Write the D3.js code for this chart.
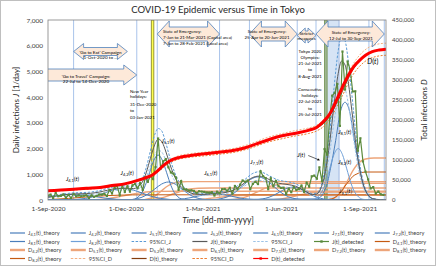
<!DOCTYPE html>
<html>
<head>
<meta charset="utf-8">
<script src="https://cdn.jsdelivr.net/npm/d3@7"></script>
<style>
  body { margin: 0; background: #fff; }
  svg { display: block; font-family: Lato, 'Open Sans', sans-serif; }
</style>
</head>
<body>
<svg id="chart" width="436" height="266"></svg>
<script>
// ---- data (day = days since 1-Sep-2020) ----
const startDate = '2020-09-01';
const endDate = '2021-10-02';
const xTickDates = ['2020-09-01', '2020-12-01', '2021-03-01', '2021-06-01', '2021-09-01'];
const leftTicks = [0, 1000, 2000, 3000, 4000, 5000, 6000, 7000];
const rightTicks = [0, 50000, 100000, 150000, 200000, 250000, 300000, 350000, 400000, 450000];

// detected daily infections, one value every 3 days from 1-Sep-2020
const jDetectedStep = 3;
const jDetected = [
  170, 211, 77, 276, 146, 163, 218, 88, 195, 78,
  235, 143, 177, 146, 166, 184, 78, 185, 124, 158, 215,
  209, 242, 157, 393, 255, 493, 539, 186, 570, 311,
  533, 327, 572, 621, 460, 664, 392, 888, 708, 944,
  814, 1278, 2392, 1219, 1502, 1592, 1274, 1070, 1026, 868,
  393, 734, 429, 412, 369, 378, 353, 272, 340, 329,
  316, 293, 290, 304, 175, 323, 256, 420, 430, 364,
  475, 249, 545, 421, 591, 759, 711, 759, 425, 629,
  708, 621, 1121, 925, 854, 419, 843, 535, 743, 539,
  471, 472, 235, 440, 304, 501, 388, 435, 562, 317,
  673, 518, 920, 950, 830, 1271, 727, 1979, 1763, 3177, 4058,
  4166, 4515, 2884, 5773, 4295, 5386, 5074, 4220, 4227, 1915,
  2400, 1500, 1100, 800, 450, 500, 250, 330, 220, 200
];

// cumulative detected infections [day, D]
const dDetected = [[0,23000],[15,25000],[30,27000],[45,29500],[61,31500],[75,36000],[91,41000],[105,49000],[115,56000],[122,62000],[128,72000],[135,86000],[142,97000],[153,106000],[167,111000],[181,115000],[200,119500],[215,123000],[230,130000],[245,141000],[260,152000],[273,160000],[290,167000],[305,174000],[315,182000],[322,195000],[330,215000],[337,245000],[344,278000],[351,308000],[358,333000],[365,349000],[372,362000],[380,371000],[388,375000],[396,377000]];

// theory components of daily infections [day, J]
const J41 = [[0,107],[5,133],[17,190],[30,220],[43,192],[55,133],[67,73],[80,30],[92,10],[105,2],[130,0],[396,0]];
const J42 = [[0,0],[22,5],[44,61],[55,146],[66,273],[77,397],[88,450],[99,397],[110,273],[121,146],[132,61],[154,5],[180,0],[396,0]];
const J51 = [[0,0],[99,19],[109,237],[114,568],[119,1061],[124,1544],[129,1750],[134,1544],[139,1061],[144,568],[149,237],[159,19],[175,0],[396,0]];
const J52 = [[0,0],[93,8],[109,95],[117,227],[125,425],[133,618],[141,700],[149,618],[157,425],[165,227],[173,95],[189,8],[210,0],[396,0]];
const J61 = [[0,0],[135,3],[155,32],[165,78],[175,146],[185,212],[195,240],[205,212],[215,146],[225,78],[235,32],[255,3],[280,0],[396,0]];
const J71 = [[0,0],[192,10],[210,122],[219,292],[228,546],[237,794],[246,900],[255,794],[264,546],[273,292],[282,122],[300,10],[320,0],[396,0]];
const J72 = [[0,0],[239,6],[255,68],[263,162],[271,303],[279,441],[287,500],[295,441],[303,303],[311,162],[319,68],[335,6],[355,0],[396,0]];
const J81 = [[0,0],[315,42],[326,514],[331,1234],[337,2305],[342,3354],[348,3800],[354,3354],[359,2305],[365,1234],[370,514],[381,42],[396,0]];
const J82 = [[0,0],[310,22],[320,271],[325,649],[330,1213],[335,1765],[340,2000],[345,1765],[350,1213],[355,649],[360,271],[370,22],[385,0],[396,0]];

const jTheory = [[0,107],[10,161],[20,207],[30,234],[40,245],[50,261],[60,307],[70,383],[80,451],[90,465],[100,444],[110,668],[115,1056],[120,1620],[125,2149],[129,2358],[133,2288],[137,1986],[141,1577],[145,1180],[150,799],[155,541],[160,412],[170,246],[180,217],[190,246],[200,267],[210,303],[220,428],[230,659],[240,877],[246,928],[250,919],[260,786],[270,655],[280,605],[290,537],[300,371],[310,210],[315,237],[320,479],[325,1106],[330,2224],[335,3664],[340,4922],[344,5403],[348,5253],[352,4531],[356,3475],[360,2365],[365,1239],[370,536],[375,192],[380,57],[390,3],[396,0]];
const jCiUpper = [[0,126],[10,190],[20,244],[30,276],[40,289],[50,308],[60,362],[70,452],[80,532],[90,549],[100,524],[110,788],[115,1246],[120,1912],[125,2536],[129,2782],[133,2700],[137,2343],[141,1861],[145,1392],[150,943],[155,638],[160,486],[170,290],[180,256],[190,290],[200,315],[210,358],[220,505],[230,778],[240,1035],[246,1095],[250,1084],[260,927],[270,773],[280,714],[290,634],[300,438],[310,248],[315,280],[320,565],[325,1305],[330,2624],[335,4324],[340,5808],[344,6376],[348,6199],[352,5347],[356,4101],[360,2791],[365,1462],[370,632],[375,227],[380,67],[390,4],[396,0]];
const jCiLower = [[0,88],[10,132],[20,170],[30,192],[40,201],[50,214],[60,252],[70,314],[80,370],[90,381],[100,364],[110,548],[115,866],[120,1328],[125,1762],[129,1934],[133,1876],[137,1629],[141,1293],[145,968],[150,655],[155,444],[160,338],[170,202],[180,178],[190,202],[200,219],[210,248],[220,351],[230,540],[240,719],[246,761],[250,754],[260,645],[270,537],[280,496],[290,440],[300,304],[310,172],[315,194],[320,393],[325,907],[330,1824],[335,3004],[340,4036],[344,4430],[348,4307],[352,3715],[356,2850],[360,1939],[365,1016],[370,440],[375,157],[380,47],[390,2],[396,0]];

// theory components of total infections [day, D]
const D41 = [[0,1260],[9,2070],[24,4020],[39,6500],[54,8980],[69,10930],[84,12130],[99,12700],[129,12990],[396,13000]];
const D42 = [[0,0],[30,22],[50,506],[60,1474],[70,3500],[80,6800],[90,11000],[100,15200],[110,18500],[120,20530],[130,21500],[150,21980],[396,22000]];
const D51 = [[0,0],[103,46],[113,1058],[118,3080],[123,7310],[128,14200],[133,23000],[138,31800],[143,38700],[148,42900],[153,44940],[163,45950],[396,46000]];
const D52 = [[0,0],[101,30],[116,690],[124,2010],[131,4770],[139,9270],[146,15000],[154,20730],[161,25230],[169,27990],[176,29310],[191,29970],[396,30000]];
const D61 = [[0,0],[144,12],[162,276],[171,804],[180,1908],[189,3708],[198,6000],[207,8292],[216,10092],[225,11196],[234,11724],[252,11988],[396,12000]];
const D71 = [[0,0],[198,42],[214,966],[222,2814],[230,6678],[238,12978],[246,21000],[254,29022],[262,35322],[270,39186],[278,41034],[294,41958],[396,42000]];
const D72 = [[0,0],[245,20],[260,460],[268,1340],[275,3180],[283,6180],[290,10000],[298,13820],[305,16820],[313,18660],[320,19540],[335,19980],[396,20000]];
const D81 = [[0,0],[322,105],[332,2415],[337,7035],[342,16695],[347,32445],[352,52500],[357,72555],[362,88305],[367,97965],[372,102585],[382,104895],[396,105000]];
const D82 = [[0,0],[321,70],[330,1610],[335,4690],[339,11130],[344,21630],[348,35000],[353,48370],[357,58870],[362,65310],[366,68390],[375,69930],[396,70000]];

const dTheory = [[0,22500],[30,26000],[60,30500],[91,40500],[105,48500],[120,61000],[130,76000],[140,93000],[150,104000],[165,111000],[181,114500],[200,119000],[220,125000],[240,137000],[255,149000],[273,159000],[290,167000],[305,173000],[315,180000],[325,196000],[335,228000],[345,272000],[355,318000],[365,348000],[375,366000],[385,374000],[396,377000]];
const dCiUpper = [[0,23400],[30,27000],[60,31700],[91,42100],[105,50400],[120,63400],[130,79000],[140,96700],[150,108200],[165,115400],[181,119100],[200,123800],[220,130000],[240,142500],[255,155000],[273,165400],[290,173700],[305,179900],[315,187200],[325,203800],[335,237100],[345,282900],[355,330700],[365,361900],[375,380600],[385,389000],[396,392100]];
const dCiLower = [[0,21600],[30,25000],[60,29300],[91,38900],[105,46600],[120,58600],[130,73000],[140,89300],[150,99800],[165,106600],[181,109900],[200,114200],[220,120000],[240,131500],[255,143000],[273,152600],[290,160300],[305,166100],[315,172800],[325,188200],[335,218900],[345,261100],[355,305300],[365,334100],[375,351400],[385,359000],[396,361900]];

// events
const eventDates = ['2020-10-01', '2020-12-14', '2021-01-07', '2021-03-21', '2021-04-25', '2021-06-20', '2021-07-12', '2021-09-12', '2021-09-30'];
const newYear = ['2020-12-31', '2021-01-03'];
const holidays = ['2021-07-22', '2021-07-25'];
const olympics = ['2021-07-23', '2021-08-08'];
const measureRanges = [
  ['2020-10-01', '2020-12-03'],
  ['2020-07-22', '2020-12-14'],
  ['2021-01-07', '2021-03-21'],
  ['2021-04-25', '2021-06-20'],
  ['2021-06-20', '2021-07-12'],
  ['2021-07-12', '2021-09-30']
];
const measureTexts = [
  ["'Go to Eat' Campaign", '1-Oct-2020 to ...'],
  ["'Go to Travel' Campaign:", '22-Jul to 14-Dec-2020'],
  ['State of Emergency:', '7-Jan to 21-Mar-2021 (Capital area)', '7-Jan to 28-Feb-2021 (Local area)'],
  ['State of Emergency:', '25-Apr to 20-Jun-2021'],
  ['Stricter', 'measures'],
  ['State of Emergency:', '12-Jul to 30-Sep-2021']
];
const newYearText = ['New Year', 'holidays:', '31-Dec-2020', 'to', '03-Jan-2021'];
const olympicsText = ['Tokyo 2020', 'Olympics:', '21-Jul-2021', 'to', '8-Aug-2021'];
const holidaysText = ['Consecutive', 'holidays:', '22-Jul-2021', 'to', '25-Jul-2021'];

// ---- drawing ----
const parse = d3.timeParse('%Y-%m-%d');
const t0 = parse(startDate);
const day = n => d3.timeDay.offset(t0, n);
const svg = d3.select('#chart');
const W = 436, H = 266;
const L = 48, R = 386, T = 20, B = 200;

const x = d3.scaleTime().domain([t0, parse(endDate)]).range([L, R]);
const yL = d3.scaleLinear().domain([0, 7000]).range([B, T]);
const yR = d3.scaleLinear().domain([0, 450000]).range([B, T]);

svg.append('rect').attr('x', 0.5).attr('y', 0.5).attr('width', W - 1).attr('height', H - 1)
  .attr('fill', '#fff').attr('stroke', '#bfbfbf');

svg.append('defs').append('clipPath').attr('id', 'plotclip')
  .append('rect').attr('x', L).attr('y', T).attr('width', R - L).attr('height', B - T);
svg.select('defs').append('marker').attr('id', 'ah').attr('viewBox', '0 0 6 6')
  .attr('refX', 5).attr('refY', 3).attr('markerWidth', 4).attr('markerHeight', 4).attr('orient', 'auto')
  .append('path').attr('d', 'M0,0 L6,3 L0,6 Z').attr('fill', '#000');

const plot = svg.append('g').attr('clip-path', 'url(#plotclip)');

// shaded periods
function band(range, fill, stroke, op) {
  plot.append('rect')
    .attr('x', x(parse(range[0]))).attr('y', T)
    .attr('width', x(parse(range[1])) - x(parse(range[0]))).attr('height', B - T)
    .attr('fill', fill).attr('fill-opacity', op).attr('stroke', stroke).attr('stroke-width', 0.8);
}
band(olympics, '#c5d9f1', '#8eaadb', 0.7);
band(holidays, '#9fb58a', '#6b8e4e', 0.9);
band(newYear, '#ffff40', '#7f7f20', 0.9);

plot.selectAll('line.ev').data(eventDates).join('line').attr('class', 'ev')
  .attr('x1', d => x(parse(d))).attr('x2', d => x(parse(d)))
  .attr('y1', T).attr('y2', B).attr('stroke', '#a9c4eb').attr('stroke-width', 1);

function series(data, y, color, width, dash) {
  const line = d3.line().x(d => x(day(d[0]))).y(d => y(d[1])).curve(d3.curveMonotoneX);
  plot.append('path').datum(data).attr('d', line).attr('fill', 'none')
    .attr('stroke', color).attr('stroke-width', width).attr('stroke-dasharray', dash || null);
}

const colD1 = '#c55a11', colD2 = '#eda57a';
[D42, D51, D52, D61, D71, D72, D81].forEach(d => series(d, yR, colD2, 1.4));
series(D41, yR, colD1, 1);
series(D82, yR, colD1, 1);
series(dCiUpper, yR, '#f4b183', 1, '2,1.5');
series(dCiLower, yR, '#ed7d31', 1, '2,1.5');
series(dTheory, yR, '#843c0c', 1);

const colJ1 = '#4a7ebb', colJ2 = '#6fa0d8';
[J41, J42, J51, J52, J61, J71, J72, J81].forEach(d => series(d, yL, colJ1, 1));
series(J82, yL, colJ2, 1);
series(jCiUpper, yL, '#5b9bd5', 1, '2.5,1.5');
series(jCiLower, yL, '#9dc3e6', 1, '2.5,1.5');
series(jTheory, yL, '#595959', 1);

// detected J
const jPts = jDetected.map((v, i) => [i * jDetectedStep, v]);
plot.append('path').datum(jPts)
  .attr('d', d3.line().x(d => x(day(d[0]))).y(d => yL(d[1])))
  .attr('fill', 'none').attr('stroke', '#5a8a3c').attr('stroke-width', 1.2);
plot.selectAll('rect.jm').data(jPts).join('rect').attr('class', 'jm')
  .attr('x', d => x(day(d[0])) - 1.1).attr('y', d => yL(d[1]) - 1.1)
  .attr('width', 2.2).attr('height', 2.2).attr('fill', '#5a8a3c');

// detected D
plot.append('path').datum(dDetected)
  .attr('d', d3.line().x(d => x(day(d[0]))).y(d => yR(d[1])).curve(d3.curveMonotoneX))
  .attr('fill', 'none').attr('stroke', '#ff0000').attr('stroke-width', 3);

// arrows for measures
const arrowGeom = [
  { yc: 51.5, hb: 4, hh: 8, hl: 10, fs: 4.6, anchor: 'middle', tx: null, ty: [53.5, 59] },
  { yc: 75, hb: 6, hh: 10, hl: 13, fs: 4.6, anchor: 'middle', tx: 86, ty: [77.5, 82.5] },
  { yc: 34, hb: 7, hh: 13, hl: 12, fs: 4.4, anchor: 'start', tx: 163, ty: [32.5, 39, 45] },
  { yc: 34, hb: 7, hh: 13, hl: 12, fs: 4.4, anchor: 'middle', tx: 267, ty: [32.5, 38.5] },
  { yc: 35.5, hb: 4.5, hh: 7.5, hl: 8, fs: 4.4, anchor: 'middle', tx: null, ty: [34.5, 39.5] },
  { yc: 34, hb: 7, hh: 13, hl: 12, fs: 4.4, anchor: 'middle', tx: 351, ty: [33.5, 39.5] }
];
measureRanges.forEach((r, i) => {
  const g = arrowGeom[i];
  const x0 = x(parse(r[0])), x1 = x(parse(r[1]));
  const { yc, hb, hh, hl } = g;
  const p = `M${x0},${yc} L${x0 + hl},${yc - hh} L${x0 + hl},${yc - hb} L${x1 - hl},${yc - hb} L${x1 - hl},${yc - hh} L${x1},${yc} L${x1 - hl},${yc + hh} L${x1 - hl},${yc + hb} L${x0 + hl},${yc + hb} L${x0 + hl},${yc + hh} Z`;
  plot.append('path').attr('d', p).attr('fill', '#fde9d9').attr('stroke', '#4f81bd').attr('stroke-width', 0.8);
  const tx = g.tx == null ? (x0 + x1) / 2 : g.tx;
  measureTexts[i].forEach((s, k) => {
    svg.append('text').attr('x', tx).attr('y', g.ty[k]).attr('text-anchor', g.anchor)
      .attr('font-size', g.fs).attr('fill', '#000').text(s);
  });
});

// annotation texts
function block(lines, xx, ys, anchor, fs) {
  lines.forEach((s, k) => svg.append('text').attr('x', xx).attr('y', ys[k])
    .attr('text-anchor', anchor).attr('font-size', fs).attr('fill', '#000').text(s));
}
block(newYearText, 130, [92.5, 98, 105.5, 112, 118.5], 'start', 4.4);
block(olympicsText, 310, [52.5, 58.5, 64.5, 71, 77.5], 'middle', 4.4);
block(holidaysText, 310, [90.5, 96.5, 103, 109.5, 115.5], 'middle', 4.4);

// curve labels
function jLabel(xx, yy, sub, fs) {
  const t = svg.append('text').attr('x', xx).attr('y', yy).attr('font-size', fs).attr('fill', '#000');
  t.append('tspan').attr('font-style', 'italic').text('J');
  if (sub) {
    t.append('tspan').attr('font-size', fs * 0.7).attr('dy', fs * 0.25).text(sub);
    t.append('tspan').attr('dy', -fs * 0.25).text('(');
  } else {
    t.append('tspan').text('(');
  }
  t.append('tspan').attr('font-style', 'italic').text('t');
  t.append('tspan').text(')');
  return t;
}
const curveLabels = [
  [21, 739, '4,1'], [85, 972, '4,2'], [133, 2217, '5,1'], [183, 972, '6,1'],
  [237, 1400, '7,1'], [340, 2567, '8,1'], [340, 1400, '8,2'], [341, 270, '9,1']
];
curveLabels.forEach(c => jLabel(x(day(c[0])), yL(c[1]), c[2], 5.8));
jLabel(x(day(292)), yL(1672), null, 6);
svg.append('line').attr('x1', x(day(292)) + 11).attr('y1', yL(1672) - 1.5)
  .attr('x2', x(day(318))).attr('y2', yL(1650) + 2.5)
  .attr('stroke', '#000').attr('stroke-width', 0.6).attr('marker-end', 'url(#ah)');
const dl = svg.append('text').attr('x', x(day(374))).attr('y', yR(340000)).attr('font-size', 7);
dl.append('tspan').attr('font-style', 'italic').text('D');
dl.append('tspan').text('(');
dl.append('tspan').attr('font-style', 'italic').text('t');
dl.append('tspan').text(')');

// frame and axes
svg.append('rect').attr('x', L).attr('y', T).attr('width', R - L).attr('height', B - T)
  .attr('fill', 'none').attr('stroke', '#808080').attr('stroke-width', 0.8);

const fmt = d3.format(',');
const axL = svg.append('g').attr('transform', `translate(${L},0)`)
  .call(d3.axisLeft(yL).tickValues(leftTicks).tickFormat(fmt).tickSize(0).tickPadding(5));
const axR = svg.append('g').attr('transform', `translate(${R},0)`)
  .call(d3.axisRight(yR).tickValues(rightTicks).tickFormat(fmt).tickSize(0).tickPadding(6));
const axB = svg.append('g').attr('transform', `translate(0,${B})`)
  .call(d3.axisBottom(x).tickValues(xTickDates.map(parse)).tickFormat(d3.timeFormat('%-d-%b-%Y')).tickSize(0).tickPadding(6));
[axL, axR, axB].forEach(a => {
  a.select('.domain').remove();
  a.selectAll('text').attr('font-family', 'Lato, sans-serif').attr('fill', '#404040');
});
axL.selectAll('text').attr('font-size', 6.5);
axR.selectAll('text').attr('font-size', 6);
axB.selectAll('text').attr('font-size', 6.5);

svg.append('text').attr('x', 218).attr('y', 13).attr('text-anchor', 'middle')
  .attr('font-size', 9.5).attr('fill', '#262626').text('COVID-19 Epidemic versus Time in Tokyo');

const yt = svg.append('text').attr('transform', 'translate(19,110) rotate(-90)')
  .attr('text-anchor', 'middle').attr('font-size', 8).attr('fill', '#262626');
yt.append('tspan').text('Daily infections ');
yt.append('tspan').attr('font-style', 'italic').text('J');
yt.append('tspan').text(' [1/day]');

const rt = svg.append('text').attr('transform', 'translate(427,110) rotate(-90)')
  .attr('text-anchor', 'middle').attr('font-size', 8).attr('fill', '#262626');
rt.append('tspan').text('Total infections ');
rt.append('tspan').attr('font-style', 'italic').text('D');

const xt = svg.append('text').attr('x', 218).attr('y', 223).attr('text-anchor', 'middle')
  .attr('font-size', 8.5).attr('fill', '#262626');
xt.append('tspan').attr('font-style', 'italic').text('Time');
xt.append('tspan').text(' [dd-mm-yyyy]');

// legend
const legendItems = [
  ['J', '4,1', '(t)_theory', 'j1'], ['J', '4,2', '(t)_theory', 'j1'], ['J', '5,1', '(t)_theory', 'j1'], ['J', '5,2', '(t)_theory', 'j1'],
  ['J', '6,1', '(t)_theory', 'j1'], ['J', '7,1', '(t)_theory', 'j1'], ['J', '7,2', '(t)_theory', 'j1'],
  ['J', '8,1', '(t)_theory', 'j1'], ['J', '8,2', '(t)_theory', 'j2'], ['', '', '95%CI_J', 'cij1'], ['J', '', '(t)_theory', 'jt'],
  ['', '', '95%CI_J', 'cij2'], ['J', '', '(t)_detected', 'jd'], ['D', '4,1', '(t)_theory', 'd1'],
  ['D', '4,2', '(t)_theory', 'd2'], ['D', '5,1', '(t)_theory', 'd2'], ['D', '5,2', '(t)_theory', 'd2'], ['D', '6,1', '(t)_theory', 'd2'],
  ['D', '7,1', '(t)_theory', 'd2'], ['D', '7,2', '(t)_theory', 'd2'], ['D', '8,1', '(t)_theory', 'd2'],
  ['D', '8,2', '(t)_theory', 'd1'], ['', '', '95%CI_D', 'cid1'], ['D', '', '(t)_theory', 'dt'], ['', '', '95%CI_D', 'cid2'], ['D', '', '(t)_detected', 'dd']
];
const legendStyles = {
  j1: ['#4a7ebb', 1.2, null], j2: ['#6fa0d8', 1.2, null], cij1: ['#5b9bd5', 1.2, '2.5,1.5'],
  jt: ['#595959', 1.2, null], cij2: ['#9dc3e6', 1.2, '2.5,1.5'], jd: ['#5a8a3c', 1.2, null],
  d1: ['#c55a11', 1.2, null], d2: ['#eda57a', 2.4, null], cid1: ['#f4b183', 1.2, '2.5,1.5'],
  dt: ['#843c0c', 1.2, null], cid2: ['#ed7d31', 1.2, '2.5,1.5'], dd: ['#ff0000', 1.2, null]
};
const rowY = [233, 241.5, 250, 258.5];
legendItems.forEach((it, i) => {
  const col = i % 7, row = Math.floor(i / 7);
  const lx = 10 + col * 60.8, ly = rowY[row];
  const st = legendStyles[it[3]];
  svg.append('line').attr('x1', lx).attr('x2', lx + 15).attr('y1', ly).attr('y2', ly)
    .attr('stroke', st[0]).attr('stroke-width', st[1]).attr('stroke-dasharray', st[2]);
  if (it[3] === 'jd' || it[3] === 'dd') {
    svg.append('rect').attr('x', lx + 6.3).attr('y', ly - 1.2).attr('width', 2.4).attr('height', 2.4).attr('fill', st[0]);
  }
  const t = svg.append('text').attr('x', lx + 18).attr('y', ly + 2).attr('font-size', 5.6).attr('fill', '#404040');
  if (it[0]) t.append('tspan').text(it[0]);
  if (it[1]) {
    t.append('tspan').attr('font-size', 4).attr('dy', 1.2).text(it[1]);
    t.append('tspan').attr('dy', -1.2).text(it[2]);
  } else {
    t.append('tspan').text(it[2]);
  }
});
</script>
</body>
</html>
